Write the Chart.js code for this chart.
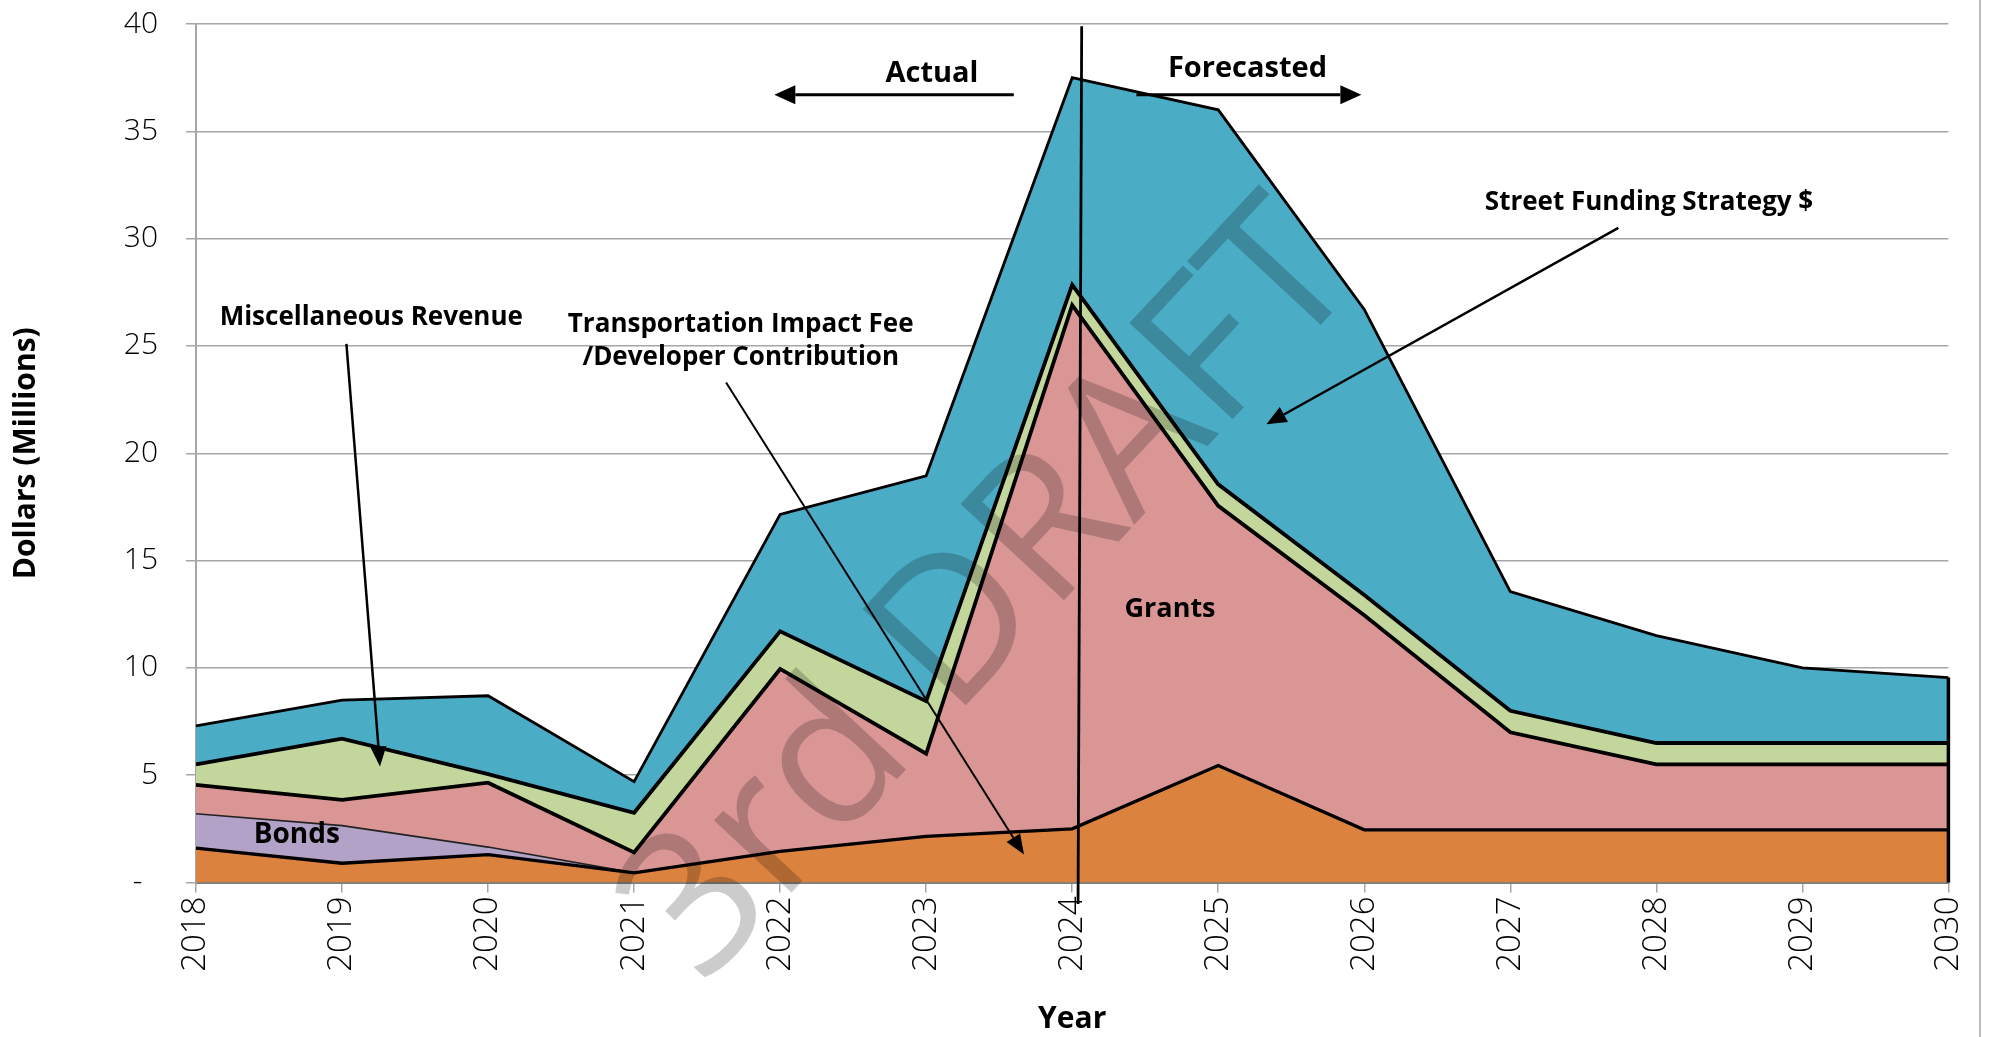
<!DOCTYPE html>
<html>
<head>
<meta charset="utf-8">
<script src="https://cdn.jsdelivr.net/npm/chart.js@4.4.1/dist/chart.umd.min.js"></script>
<style>
html,body{margin:0;padding:0;background:#ffffff;}
#wrap{width:1992px;height:1037px;position:relative;}
canvas{display:block;}
</style>
</head>
<body>
<div id="wrap"><canvas id="c" width="1992" height="1037"></canvas></div>
<script>
// ---- data (millions of dollars) ----
const years = ['2018','2019','2020','2021','2022','2023','2024','2025','2026','2027','2028','2029','2030'];
const transportationImpactFee = [1.6, 0.9, 1.3, 0.45, 1.45, 2.15, 2.5, 5.45, 2.45, 2.45, 2.45, 2.45, 2.45];
const bonds = [1.6, 1.75, 0.35, 0, 0, 0, 0, 0, 0, 0, 0, 0, 0];
const grants = [1.35, 1.2, 3.0, 0.95, 8.5, 3.85, 24.4, 12.1, 10.0, 4.55, 3.05, 3.05, 3.05];
const miscRevenue = [0.95, 2.85, 0.4, 1.85, 1.75, 2.45, 0.95, 1.0, 0.95, 1.0, 1.0, 1.0, 1.0];
const streetFunding = [1.8, 1.8, 3.65, 1.45, 5.45, 10.5, 9.65, 17.45, 13.3, 5.55, 5.0, 3.5, 3.05];
const yTickValues = [0, 5, 10, 15, 20, 25, 30, 35, 40];
const yTickLabels = ['-  ', '5', '10', '15', '20', '25', '30', '35', '40'];

// ---- annotation placement in data units (x = year index, y = value) ----
const textLabels = [
  {text:'Actual', x:5.04, y:37.7, size:29},
  {text:'Forecasted', x:7.20, y:37.9, size:29},
  {text:'Miscellaneous Revenue', x:1.20, y:26.3, size:26},
  {text:'Transportation Impact Fee', x:3.73, y:26.0, size:26},
  {text:'/Developer Contribution', x:3.73, y:24.45, size:26},
  {text:'Street Funding Strategy $', x:9.95, y:31.7, size:26},
  {text:'Grants', x:6.67, y:12.75, size:27},
  {text:'Bonds', x:0.69, y:2.2, size:28}
];
const arrows = [
  {x1:5.60, y1:36.7, x2:3.96, y2:36.7, w:3, hl:21, hw:19},
  {x1:6.44, y1:36.7, x2:7.98, y2:36.7, w:3, hl:21, hw:19},
  {x1:1.03, y1:25.1, x2:1.26, y2:5.4, w:2.5, hl:20, hw:16},
  {x1:3.63, y1:23.3, x2:5.67, y2:1.3, w:2, hl:20, hw:16},
  {x1:9.74, y1:30.5, x2:7.33, y2:21.35, w:2.5, hl:20, hw:17}
];
const dividerLine = {x1:6.065, y1:39.9, x2:6.04, y2:-1.0};
const watermark = {text:'3rd DRAFT', x:5.45, y:13.4, size:198, angle:-47};

function drawArrow(ctx, x1, y1, x2, y2, w, hl, hw){
  const a = Math.atan2(y2 - y1, x2 - x1);
  const bx = x2 - hl * Math.cos(a), by = y2 - hl * Math.sin(a);
  ctx.beginPath();
  ctx.moveTo(x1, y1); ctx.lineTo(bx, by);
  ctx.lineWidth = w; ctx.strokeStyle = '#000'; ctx.stroke();
  ctx.beginPath();
  ctx.moveTo(x2, y2);
  ctx.lineTo(bx + (hw/2) * Math.sin(a), by - (hw/2) * Math.cos(a));
  ctx.lineTo(bx - (hw/2) * Math.sin(a), by + (hw/2) * Math.cos(a));
  ctx.closePath(); ctx.fillStyle = '#000'; ctx.fill();
}

const decorations = {
  id: 'decorations',
  afterDatasetsDraw(chart){
    const ctx = chart.ctx, xs = chart.scales.x, ys = chart.scales.y;
    const px = v => xs.getPixelForValue(v), py = v => ys.getPixelForValue(v);
    ctx.save();
    // closing edge of the stacked areas at the last year
    const last = years.length - 1;
    const total = transportationImpactFee[last] + bonds[last] + grants[last] + miscRevenue[last] + streetFunding[last];
    ctx.beginPath();
    ctx.moveTo(px(last), py(0)); ctx.lineTo(px(last), py(total));
    ctx.lineWidth = 3.5; ctx.strokeStyle = '#000'; ctx.stroke();

    // watermark
    ctx.save();
    ctx.translate(px(watermark.x), py(watermark.y));
    ctx.rotate(watermark.angle * Math.PI / 180);
    ctx.font = watermark.size + 'px "Open Sans"';
    ctx.fillStyle = 'rgba(0,0,0,0.2)';
    ctx.textAlign = 'center'; ctx.textBaseline = 'middle';
    ctx.fillText(watermark.text, 0, 0);
    ctx.restore();

    // actual / forecast divider
    ctx.beginPath();
    ctx.moveTo(px(dividerLine.x1), py(dividerLine.y1));
    ctx.lineTo(px(dividerLine.x2), py(dividerLine.y2));
    ctx.lineWidth = 2.8; ctx.strokeStyle = '#000'; ctx.stroke();

    arrows.forEach(a => drawArrow(ctx, px(a.x1), py(a.y1), px(a.x2), py(a.y2), a.w, a.hl, a.hw));

    ctx.fillStyle = '#000'; ctx.textAlign = 'center'; ctx.textBaseline = 'middle';
    textLabels.forEach(t => {
      ctx.font = 'bold ' + t.size + 'px "Open Sans"';
      ctx.fillText(t.text, px(t.x), py(t.y));
    });

    // outer frame edge on the right
    ctx.beginPath();
    ctx.moveTo(1980, 0); ctx.lineTo(1980, chart.height);
    ctx.lineWidth = 1.5; ctx.strokeStyle = '#a6a6a6'; ctx.stroke();
    ctx.restore();
  }
};

const ds = (label, data, bg, fill, bw, bc) => ({
  label, data, backgroundColor: bg, borderColor: bc || '#000', borderWidth: bw,
  fill, pointRadius: 0, pointHoverRadius: 0, tension: 0, borderJoinStyle: 'miter'
});

new Chart(document.getElementById('c'), {
  type: 'line',
  data: {
    labels: years,
    datasets: [
      ds('Transportation Impact Fee /Developer Contribution', transportationImpactFee, '#DB833E', 'origin', 3.4),
      ds('Bonds', bonds, '#B3A2C7', '-1', 1.6, '#222'),
      ds('Grants', grants, '#D99694', '-1', 3.8),
      ds('Miscellaneous Revenue', miscRevenue, '#C3D69B', '-1', 3.8),
      ds('Street Funding Strategy $', streetFunding, '#4BACC6', '-1', 2.8)
    ]
  },
  options: {
    responsive: false,
    animation: false,
    events: [],
    layout: { padding: { left: 0, right: 36, top: 24, bottom: 0 } },
    plugins: { legend: { display: false }, tooltip: { enabled: false }, title: { display: false } },
    scales: {
      x: {
        type: 'category',
        offset: false,
        grid: { display: true, drawOnChartArea: false, drawTicks: true, tickLength: 10, color: '#a6a6a6', lineWidth: 1.5 },
        border: { display: true, color: '#808080', width: 2 },
        ticks: { autoSkip: false, maxRotation: 90, minRotation: 90, padding: 4, color: '#000',
                 font: { family: '"Open Sans"', size: 33, weight: 300 } },
        title: { display: true, text: 'Year', color: '#000', padding: { top: 0, bottom: 0 },
                 font: { family: '"Open Sans"', size: 30, weight: 'bold' } },
        afterFit(s) { s.height = 154.5; s.paddingTop = 0; s.paddingBottom = 0; }
      },
      y: {
        stacked: true,
        min: 0, max: 40,
        afterBuildTicks(s) { s.ticks = yTickValues.map(v => ({ value: v })); },
        grid: { color: '#a6a6a6', lineWidth: 1.5, tickLength: 10 },
        border: { display: true, color: '#a6a6a6', width: 2 },
        ticks: { padding: 28, color: '#000', font: { family: '"Open Sans"', size: 30, weight: 300 },
                 callback: (v) => yTickLabels[yTickValues.indexOf(v)] },
        title: { display: true, text: 'Dollars (Millions)', color: '#000', padding: { top: 8, bottom: 0 },
                 font: { family: '"Open Sans"', size: 30, weight: 'bold' } },
        afterFit(s) { s.width = 196; s.paddingTop = 0; s.paddingBottom = 0; }
      }
    }
  },
  plugins: [decorations]
});
</script>
</body>
</html>
